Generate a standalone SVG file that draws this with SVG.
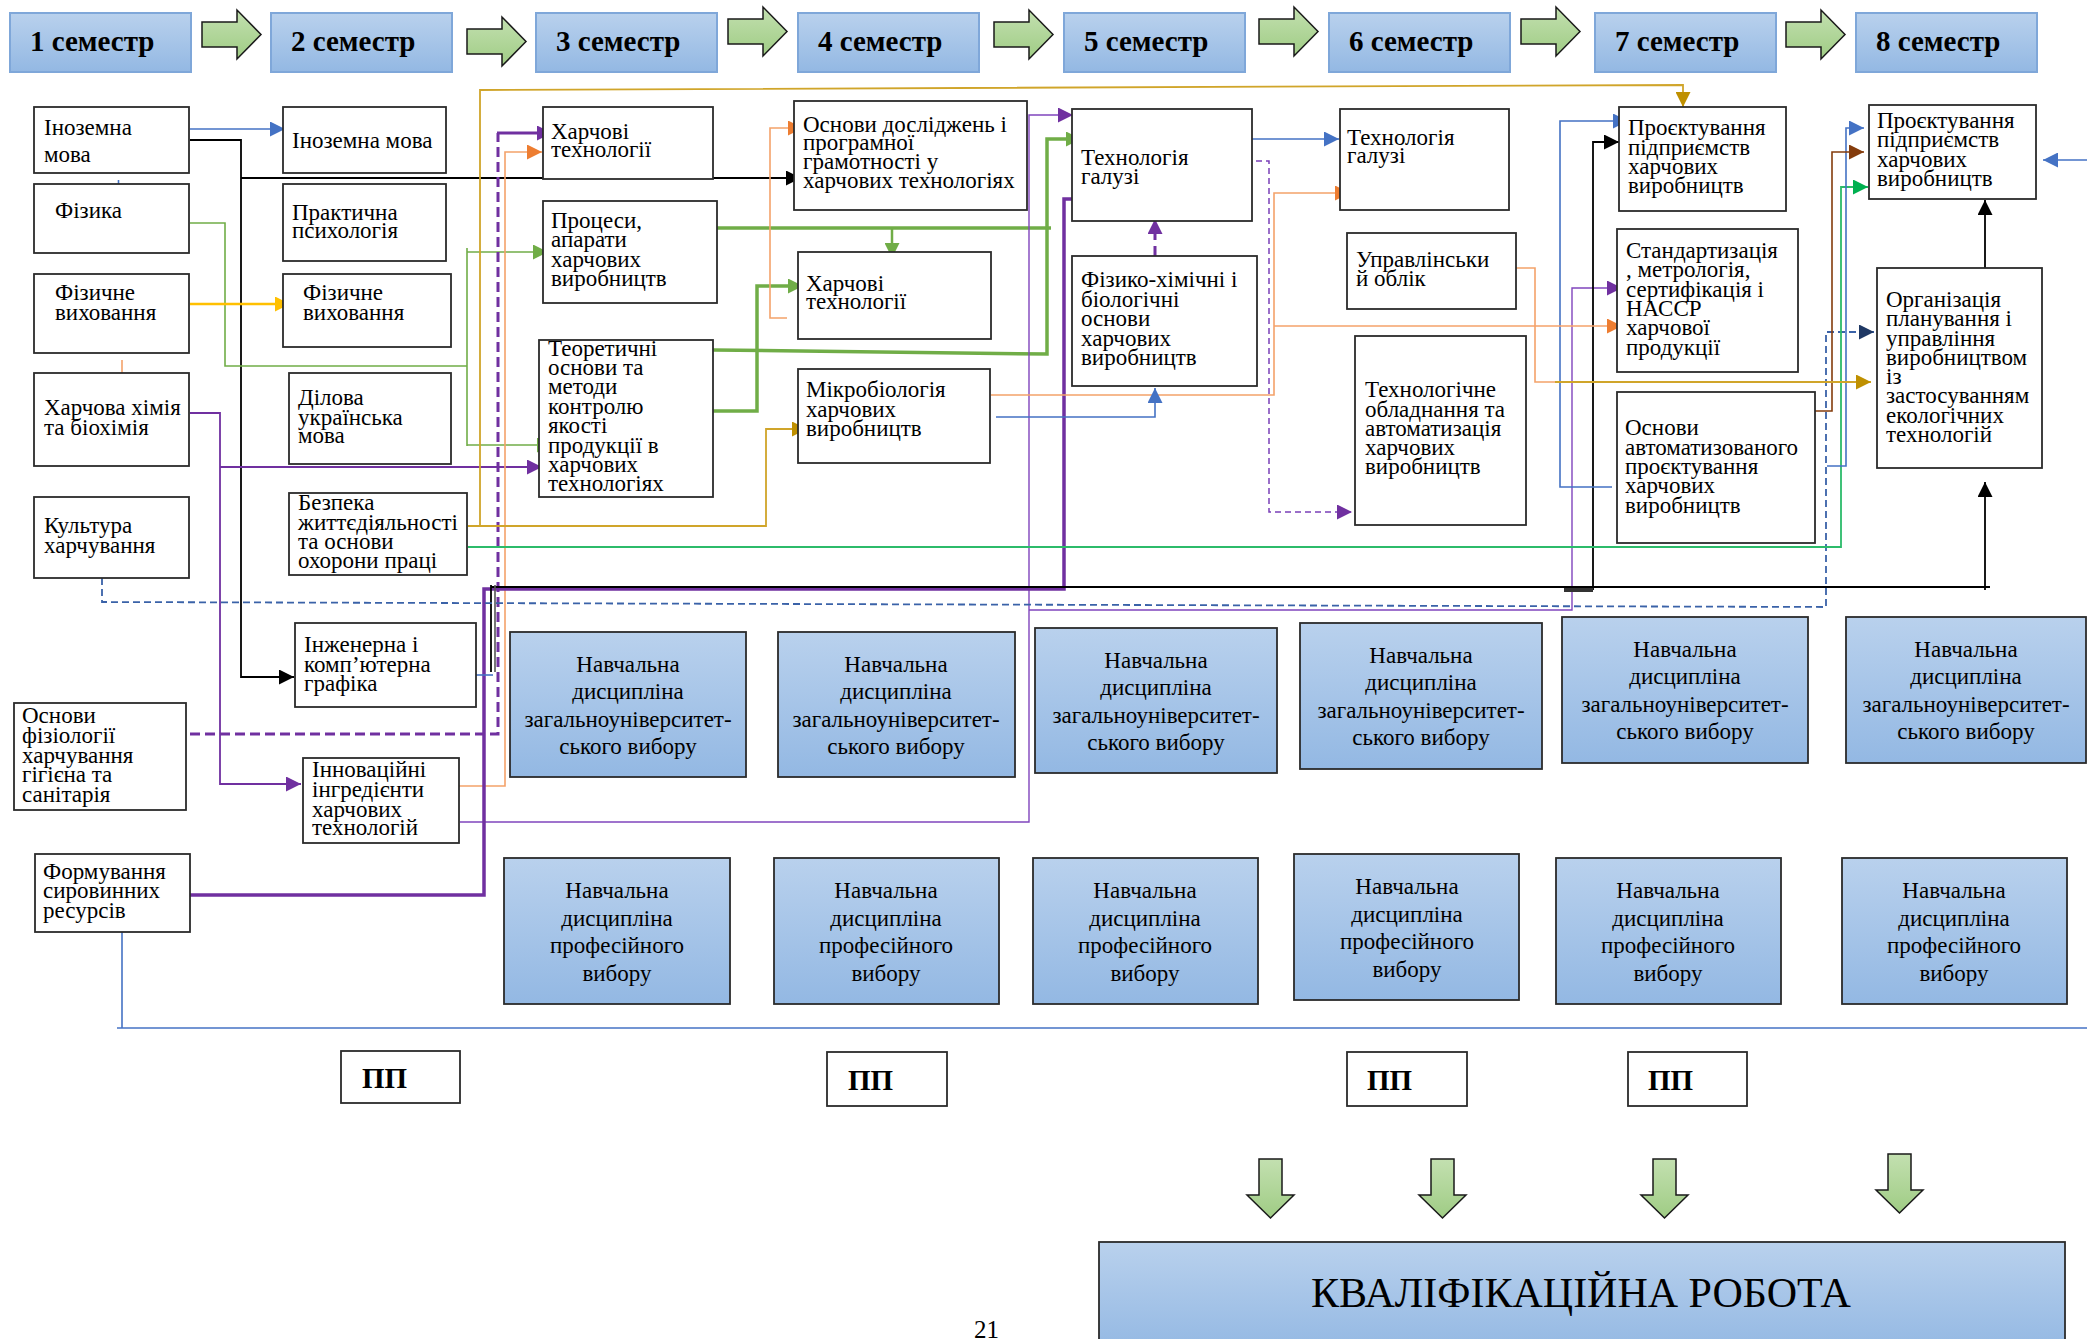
<svg xmlns="http://www.w3.org/2000/svg" xmlns:xlink="http://www.w3.org/1999/xlink" width="2087" height="1339" viewBox="0 0 2087 1339">
<defs>
<linearGradient id="gH" x1="0" y1="0" x2="0" y2="1"><stop offset="0" stop-color="#b9d1ed"/><stop offset="1" stop-color="#93b8e3"/></linearGradient>
<linearGradient id="gG" x1="0" y1="0" x2="0" y2="1"><stop offset="0" stop-color="#c3e0b0"/><stop offset="1" stop-color="#9fcc84"/></linearGradient>
<polygon id="rarr" points="0,12 35,12 35,0 59,24.5 35,49 35,37 0,37"/>
<polygon id="darr" points="12,0 35,0 35,36 47,36 23.5,59 0,36 12,36"/>
<marker id="mBl" viewBox="0 0 10 10" refX="10" refY="5" markerWidth="15" markerHeight="15" markerUnits="userSpaceOnUse" orient="auto"><path d="M0,0 L10,5 L0,10 z" fill="#4472c4"/></marker>
<marker id="mK" viewBox="0 0 10 10" refX="10" refY="5" markerWidth="15" markerHeight="15" markerUnits="userSpaceOnUse" orient="auto"><path d="M0,0 L10,5 L0,10 z" fill="#000"/></marker>
<marker id="mY" viewBox="0 0 10 10" refX="10" refY="5" markerWidth="15" markerHeight="15" markerUnits="userSpaceOnUse" orient="auto"><path d="M0,0 L10,5 L0,10 z" fill="#ffc000"/></marker>
<marker id="mP" viewBox="0 0 10 10" refX="10" refY="5" markerWidth="15" markerHeight="15" markerUnits="userSpaceOnUse" orient="auto"><path d="M0,0 L10,5 L0,10 z" fill="#7030a0"/></marker>
<marker id="mO" viewBox="0 0 10 10" refX="10" refY="5" markerWidth="15" markerHeight="15" markerUnits="userSpaceOnUse" orient="auto"><path d="M0,0 L10,5 L0,10 z" fill="#ed7d31"/></marker>
<marker id="mG" viewBox="0 0 10 10" refX="10" refY="5" markerWidth="15" markerHeight="15" markerUnits="userSpaceOnUse" orient="auto"><path d="M0,0 L10,5 L0,10 z" fill="#70ad47"/></marker>
<marker id="mGB" viewBox="0 0 10 10" refX="10" refY="5" markerWidth="15" markerHeight="15" markerUnits="userSpaceOnUse" orient="auto"><path d="M0,0 L10,5 L0,10 z" fill="#00b050"/></marker>
<marker id="mAu" viewBox="0 0 10 10" refX="10" refY="5" markerWidth="15" markerHeight="15" markerUnits="userSpaceOnUse" orient="auto"><path d="M0,0 L10,5 L0,10 z" fill="#bf9000"/></marker>
<marker id="mBr" viewBox="0 0 10 10" refX="10" refY="5" markerWidth="15" markerHeight="15" markerUnits="userSpaceOnUse" orient="auto"><path d="M0,0 L10,5 L0,10 z" fill="#843c0c"/></marker>
<marker id="mN" viewBox="0 0 10 10" refX="10" refY="5" markerWidth="15" markerHeight="15" markerUnits="userSpaceOnUse" orient="auto"><path d="M0,0 L10,5 L0,10 z" fill="#1f3864"/></marker>
<style>
text{font-family:"Liberation Serif","Times New Roman",serif;fill:#000}
.t{font-size:23px}
.ht{font-size:29px;font-weight:bold}
.bt{font-size:23px;text-anchor:middle}
.pp{font-size:29px;font-weight:bold}
.nb{fill:#fff;stroke:#2b2b2b;stroke-width:1.8}
.hdr{fill:url(#gH);stroke:#7fa7d9;stroke-width:2}
.bb{fill:url(#gH);stroke:#2b2b2b;stroke-width:1.8}
.ga{fill:url(#gG);stroke:#1a1a1a;stroke-width:1.5}
#connectors path{fill:none}
.blue{stroke:#4472c4;stroke-width:1.6}
.blk{stroke:#000;stroke-width:1.8}
.lg{stroke:#70ad47;stroke-width:1.6}
.tg{stroke:#70ad47;stroke-width:3.5}
.yel{stroke:#ffc000;stroke-width:2.5}
.pu{stroke:#7030a0;stroke-width:1.8}
.put{stroke:#8045bd;stroke-width:1.4}
.pub{stroke:#7030a0;stroke-width:3.5}
.pud{stroke:#7030a0;stroke-width:3;stroke-dasharray:10 5}
.pdt{stroke:#7a3fb8;stroke-width:1.5;stroke-dasharray:6 4}
.or{stroke:#f4a26a;stroke-width:1.6}
.au{stroke:#d0a52a;stroke-width:1.8}
.gb{stroke:#2cbb6a;stroke-width:1.8}
.br{stroke:#843c0c;stroke-width:1.6}
.bd{stroke:#3a62a8;stroke-width:1.8;stroke-dasharray:7 4}
</style>
</defs>
<rect width="2087" height="1339" fill="#fff"/>

<g id="headers">
<g id="h1"><rect class="hdr" x="10" y="13" width="181" height="59"/><text class="ht" x="30" y="51">1 семестр</text></g>
<g id="h2"><rect class="hdr" x="271" y="13" width="181" height="59"/><text class="ht" x="291" y="51">2 семестр</text></g>
<g id="h3"><rect class="hdr" x="536" y="13" width="181" height="59"/><text class="ht" x="556" y="51">3 семестр</text></g>
<g id="h4"><rect class="hdr" x="798" y="13" width="181" height="59"/><text class="ht" x="818" y="51">4 семестр</text></g>
<g id="h5"><rect class="hdr" x="1064" y="13" width="181" height="59"/><text class="ht" x="1084" y="51">5 семестр</text></g>
<g id="h6"><rect class="hdr" x="1329" y="13" width="181" height="59"/><text class="ht" x="1349" y="51">6 семестр</text></g>
<g id="h7"><rect class="hdr" x="1595" y="13" width="181" height="59"/><text class="ht" x="1615" y="51">7 семестр</text></g>
<g id="h8"><rect class="hdr" x="1856" y="13" width="181" height="59"/><text class="ht" x="1876" y="51">8 семестр</text></g>
</g>

<g id="flow-arrows">
<use href="#rarr" class="ga" x="202" y="10"/>
<use href="#rarr" class="ga" x="467" y="17"/>
<use href="#rarr" class="ga" x="728" y="7"/>
<use href="#rarr" class="ga" x="994" y="10"/>
<use href="#rarr" class="ga" x="1259" y="7"/>
<use href="#rarr" class="ga" x="1521" y="7"/>
<use href="#rarr" class="ga" x="1786" y="10"/>
<use href="#darr" class="ga" x="1247" y="1159"/>
<use href="#darr" class="ga" x="1419" y="1159"/>
<use href="#darr" class="ga" x="1641" y="1159"/>
<use href="#darr" class="ga" x="1876" y="1154"/>
</g>

<g id="connectors">
<path class="blue" d="M190,129 H285" marker-end="url(#mBl)"/>
<path class="blk" d="M190,140 H241 V677 H294" marker-end="url(#mK)"/>
<path class="blk" d="M241,178 H801" marker-end="url(#mK)"/>
<path class="lg" d="M190,223 H225 V366 H467"/>
<path class="lg" d="M467,248 V446"/>
<path class="lg" d="M467,252 H548" marker-end="url(#mG)"/>
<path class="lg" d="M467,445 H552" marker-end="url(#mG)"/>
<path class="yel" d="M190,304 H290" marker-end="url(#mY)"/>
<path class="pu" d="M190,413 H220 V784 H301" marker-end="url(#mP)"/>
<path class="pu" d="M220,467 H542" marker-end="url(#mP)"/>
<path class="pud" d="M190,734 H498 V133"/>
<path class="pub" d="M497,133 H552" style="stroke-width:3" marker-end="url(#mP)"/>
<path class="or" d="M459,786 H505 V152 H542" marker-end="url(#mO)"/>
<path class="au" d="M468,526 H766 V429 H807" marker-end="url(#mAu)"/>
<path class="au" d="M480,526 V90 L1683,85 V107" marker-end="url(#mAu)"/>
<path class="tg" d="M717,228 H1051"/>
<path class="tg" d="M892,229 V258" style="stroke-width:2.5" marker-end="url(#mG)"/>
<path class="tg" d="M713,350 L1047,354 V139 H1081" marker-end="url(#mG)"/>
<path class="tg" d="M713,411 H757 V286 H803" marker-end="url(#mG)"/>
<path class="or" d="M787,318 H770 V128 H803" marker-end="url(#mO)"/>
<path class="put" d="M460,822 H1029 V115 H1073" marker-end="url(#mP)"/>
<path class="put" d="M1029,610 H1572 V288 H1622" marker-end="url(#mP)"/>
<path class="pub" d="M190,895 H484 V589 H1064 V199 H1095" marker-end="url(#mP)"/>
<path class="blk" d="M491,587 H1990"/>
<path class="blk" d="M1985,590 V482" marker-end="url(#mK)"/>
<path class="blk" d="M491,585 V672"/>
<path stroke="#555" stroke-width="1.6" d="M495,585 V672"/>
<path class="blue" d="M476,675 H493"/>
<path class="blk" d="M1593,590 V142 H1619" marker-end="url(#mK)"/>
<path stroke="#333" stroke-width="4" d="M1564,590 H1593"/>
<path class="blk" d="M1985,268 V200" marker-end="url(#mK)"/>
<path class="bd" d="M102,578 V602 L1826,607 V332 H1874" marker-end="url(#mN)"/>
<path class="gb" d="M468,547 H1841 V187 H1868" marker-end="url(#mGB)"/>
<path class="blue" d="M1612,487 H1560 V121 H1628" marker-end="url(#mBl)"/>
<path class="blue" d="M1827,466 H1846 V128 H1864" marker-end="url(#mBl)"/>
<path class="br" d="M1815,411 H1832 V152 H1864" marker-end="url(#mBr)"/>
<path class="or" d="M991,395 H1274 V193 H1350" marker-end="url(#mO)"/>
<path class="or" d="M1274,326 H1622" marker-end="url(#mO)"/>
<path class="or" d="M1516,268 H1535 V382 H1555"/>
<path class="au" d="M1555,382 H1871" marker-end="url(#mAu)"/>
<path class="blue" d="M996,417 H1155 V388" marker-end="url(#mBl)"/>
<path class="pud" d="M1155,258 V219" style="stroke-dasharray:12 6" marker-end="url(#mP)"/>
<path class="blue" d="M1252,139 H1339" marker-end="url(#mBl)"/>
<path class="pdt" d="M1256,161 H1269 V512 H1352" marker-end="url(#mP)"/>
<path class="blue" d="M2087,160 H2043" marker-end="url(#mBl)"/>
<path class="blue" d="M122,932 V1028"/>
<path class="blue" d="M117,1028 H2087"/>
<path class="blue" d="M118.5,180 V187"/>
<path class="or" d="M122,360 V373"/>
</g>

<g id="nodes">
<g id="s1-inozemna"><rect class="nb" x="34" y="107" width="155" height="66"/><text class="t"><tspan x="44" y="135">Іноземна</tspan><tspan x="44" y="162">мова</tspan></text></g>
<g id="s1-fizyka"><rect class="nb" x="34" y="184" width="155" height="69"/><text class="t" x="55" y="218">Фізика</text></g>
<g id="s1-fizvyh"><rect class="nb" x="34" y="274" width="155" height="79"/><text class="t"><tspan x="55" y="300">Фізичне</tspan><tspan x="55" y="320">виховання</tspan></text></g>
<g id="s1-himiya"><rect class="nb" x="34" y="373" width="155" height="93"/><text class="t"><tspan x="44" y="415">Харчова хімія</tspan><tspan x="44" y="435">та біохімія</tspan></text></g>
<g id="s1-kultura"><rect class="nb" x="34" y="497" width="155" height="81"/><text class="t"><tspan x="44" y="533">Культура</tspan><tspan x="44" y="553">харчування</tspan></text></g>
<g id="s1-fiziol"><rect class="nb" x="14" y="703" width="172" height="107"/><text class="t"><tspan x="22" y="723">Основи</tspan><tspan x="22" y="743">фізіології</tspan><tspan x="22" y="763">харчування</tspan><tspan x="22" y="782">гігієна та</tspan><tspan x="22" y="802">санітарія</tspan></text></g>
<g id="s1-syrovyna"><rect class="nb" x="35" y="854" width="155" height="78"/><text class="t"><tspan x="43" y="879">Формування</tspan><tspan x="43" y="898">сировинних</tspan><tspan x="43" y="918">ресурсів</tspan></text></g>

<g id="s2-inozemna"><rect class="nb" x="283" y="107" width="163" height="66"/><text class="t" x="292" y="148">Іноземна мова</text></g>
<g id="s2-psyh"><rect class="nb" x="283" y="184" width="163" height="77"/><text class="t"><tspan x="292" y="220">Практична</tspan><tspan x="292" y="238">психологія</tspan></text></g>
<g id="s2-fizvyh"><rect class="nb" x="283" y="274" width="168" height="73"/><text class="t"><tspan x="303" y="300">Фізичне</tspan><tspan x="303" y="320">виховання</tspan></text></g>
<g id="s2-dilova"><rect class="nb" x="289" y="373" width="162" height="91"/><text class="t"><tspan x="298" y="405">Ділова</tspan><tspan x="298" y="425">українська</tspan><tspan x="298" y="443">мова</tspan></text></g>
<g id="s2-bzhd"><rect class="nb" x="289" y="493" width="178" height="82"/><text class="t"><tspan x="298" y="510">Безпека</tspan><tspan x="298" y="530">життєдіяльності</tspan><tspan x="298" y="549">та основи</tspan><tspan x="298" y="568">охорони праці</tspan></text></g>
<g id="s2-grafika"><rect class="nb" x="295" y="623" width="181" height="84"/><text class="t"><tspan x="304" y="652">Інженерна і</tspan><tspan x="304" y="672">комп’ютерна</tspan><tspan x="304" y="691">графіка</tspan></text></g>
<g id="s2-innov"><rect class="nb" x="303" y="758" width="156" height="85"/><text class="t"><tspan x="312" y="777">Інноваційні</tspan><tspan x="312" y="797">інгредієнти</tspan><tspan x="312" y="817">харчових</tspan><tspan x="312" y="835">технологій</tspan></text></g>

<g id="s3-harch"><rect class="nb" x="543" y="107" width="170" height="72"/><text class="t"><tspan x="551" y="139">Харчові</tspan><tspan x="551" y="157">технології</tspan></text></g>
<g id="s3-procesy"><rect class="nb" x="543" y="201" width="174" height="102"/><text class="t"><tspan x="551" y="228">Процеси,</tspan><tspan x="551" y="247">апарати</tspan><tspan x="551" y="267">харчових</tspan><tspan x="551" y="286">виробництв</tspan></text></g>
<g id="s3-teor"><rect class="nb" x="539" y="340" width="174" height="157"/><text class="t"><tspan x="548" y="356">Теоретичні</tspan><tspan x="548" y="375">основи та</tspan><tspan x="548" y="394">методи</tspan><tspan x="548" y="414">контролю</tspan><tspan x="548" y="433">якості</tspan><tspan x="548" y="453">продукції в</tspan><tspan x="548" y="472">харчових</tspan><tspan x="548" y="491">технологіях</tspan></text></g>

<g id="s4-doslid"><rect class="nb" x="794" y="101" width="233" height="109"/><text class="t"><tspan x="803" y="132">Основи досліджень і</tspan><tspan x="803" y="150">програмної</tspan><tspan x="803" y="169">грамотності у</tspan><tspan x="803" y="188">харчових технологіях</tspan></text></g>
<g id="s4-harch"><rect class="nb" x="798" y="252" width="193" height="87"/><text class="t"><tspan x="806" y="291">Харчові</tspan><tspan x="806" y="309">технології</tspan></text></g>
<g id="s4-mikro"><rect class="nb" x="798" y="369" width="192" height="94"/><text class="t"><tspan x="806" y="397">Мікробіологія</tspan><tspan x="806" y="417">харчових</tspan><tspan x="806" y="436">виробництв</tspan></text></g>

<g id="s5-tehn"><rect class="nb" x="1072" y="109" width="180" height="112"/><text class="t"><tspan x="1081" y="165">Технологія</tspan><tspan x="1081" y="184">галузі</tspan></text></g>
<g id="s5-fizhim"><rect class="nb" x="1072" y="256" width="185" height="130"/><text class="t"><tspan x="1081" y="287">Фізико-хімічні і</tspan><tspan x="1081" y="307">біологічні</tspan><tspan x="1081" y="326">основи</tspan><tspan x="1081" y="346">харчових</tspan><tspan x="1081" y="365">виробництв</tspan></text></g>

<g id="s6-tehn"><rect class="nb" x="1340" y="109" width="169" height="101"/><text class="t"><tspan x="1347" y="145">Технологія</tspan><tspan x="1347" y="163">галузі</tspan></text></g>
<g id="s6-oblik"><rect class="nb" x="1347" y="233" width="169" height="76"/><text class="t"><tspan x="1356" y="267">Управлінськи</tspan><tspan x="1356" y="286">й облік</tspan></text></g>
<g id="s6-obladn"><rect class="nb" x="1355" y="336" width="171" height="189"/><text class="t"><tspan x="1365" y="397">Технологічне</tspan><tspan x="1365" y="417">обладнання та</tspan><tspan x="1365" y="436">автоматизація</tspan><tspan x="1365" y="455">харчових</tspan><tspan x="1365" y="474">виробництв</tspan></text></g>

<g id="s7-proekt"><rect class="nb" x="1619" y="107" width="167" height="104"/><text class="t"><tspan x="1628" y="135">Проєктування</tspan><tspan x="1628" y="155">підприємств</tspan><tspan x="1628" y="174">харчових</tspan><tspan x="1628" y="193">виробництв</tspan></text></g>
<g id="s7-standart"><rect class="nb" x="1617" y="229" width="181" height="143"/><text class="t"><tspan x="1626" y="258">Стандартизація</tspan><tspan x="1626" y="277">, метрологія,</tspan><tspan x="1626" y="297">сертифікація і</tspan><tspan x="1626" y="316">НАССР</tspan><tspan x="1626" y="335">харчової</tspan><tspan x="1626" y="355">продукції</tspan></text></g>
<g id="s7-avtom"><rect class="nb" x="1617" y="392" width="198" height="151"/><text class="t"><tspan x="1625" y="435">Основи</tspan><tspan x="1625" y="455">автоматизованого</tspan><tspan x="1625" y="474">проєктування</tspan><tspan x="1625" y="493">харчових</tspan><tspan x="1625" y="513">виробництв</tspan></text></g>

<g id="s8-proekt"><rect class="nb" x="1869" y="105" width="167" height="94"/><text class="t"><tspan x="1877" y="128">Проєктування</tspan><tspan x="1877" y="147">підприємств</tspan><tspan x="1877" y="167">харчових</tspan><tspan x="1877" y="186">виробництв</tspan></text></g>
<g id="s8-organiz"><rect class="nb" x="1877" y="268" width="165" height="200"/><text class="t"><tspan x="1886" y="307">Організація</tspan><tspan x="1886" y="326">планування і</tspan><tspan x="1886" y="346">управління</tspan><tspan x="1886" y="365">виробництвом</tspan><tspan x="1886" y="384">із</tspan><tspan x="1886" y="403">застосуванням</tspan><tspan x="1886" y="423">екологічних</tspan><tspan x="1886" y="442">технологій</tspan></text></g>

<g id="zv1"><rect class="bb" x="510" y="632" width="236" height="145"/><text class="bt"><tspan x="628" y="672">Навчальна</tspan><tspan x="628" y="699">дисципліна</tspan><tspan x="628" y="727">загальноуніверситет-</tspan><tspan x="628" y="754">ського вибору</tspan></text></g>
<g id="zv2"><rect class="bb" x="778" y="632" width="237" height="145"/><text class="bt"><tspan x="896" y="672">Навчальна</tspan><tspan x="896" y="699">дисципліна</tspan><tspan x="896" y="727">загальноуніверситет-</tspan><tspan x="896" y="754">ського вибору</tspan></text></g>
<g id="zv3"><rect class="bb" x="1035" y="628" width="242" height="145"/><text class="bt"><tspan x="1156" y="668">Навчальна</tspan><tspan x="1156" y="695">дисципліна</tspan><tspan x="1156" y="723">загальноуніверситет-</tspan><tspan x="1156" y="750">ського вибору</tspan></text></g>
<g id="zv4"><rect class="bb" x="1300" y="623" width="242" height="146"/><text class="bt"><tspan x="1421" y="663">Навчальна</tspan><tspan x="1421" y="690">дисципліна</tspan><tspan x="1421" y="718">загальноуніверситет-</tspan><tspan x="1421" y="745">ського вибору</tspan></text></g>
<g id="zv5"><rect class="bb" x="1562" y="617" width="246" height="146"/><text class="bt"><tspan x="1685" y="657">Навчальна</tspan><tspan x="1685" y="684">дисципліна</tspan><tspan x="1685" y="712">загальноуніверситет-</tspan><tspan x="1685" y="739">ського вибору</tspan></text></g>
<g id="zv6"><rect class="bb" x="1846" y="617" width="240" height="146"/><text class="bt"><tspan x="1966" y="657">Навчальна</tspan><tspan x="1966" y="684">дисципліна</tspan><tspan x="1966" y="712">загальноуніверситет-</tspan><tspan x="1966" y="739">ського вибору</tspan></text></g>

<g id="pv1"><rect class="bb" x="504" y="858" width="226" height="146"/><text class="bt"><tspan x="617" y="898">Навчальна</tspan><tspan x="617" y="926">дисципліна</tspan><tspan x="617" y="953">професійного</tspan><tspan x="617" y="981">вибору</tspan></text></g>
<g id="pv2"><rect class="bb" x="774" y="858" width="225" height="146"/><text class="bt"><tspan x="886" y="898">Навчальна</tspan><tspan x="886" y="926">дисципліна</tspan><tspan x="886" y="953">професійного</tspan><tspan x="886" y="981">вибору</tspan></text></g>
<g id="pv3"><rect class="bb" x="1033" y="858" width="225" height="146"/><text class="bt"><tspan x="1145" y="898">Навчальна</tspan><tspan x="1145" y="926">дисципліна</tspan><tspan x="1145" y="953">професійного</tspan><tspan x="1145" y="981">вибору</tspan></text></g>
<g id="pv4"><rect class="bb" x="1294" y="854" width="225" height="146"/><text class="bt"><tspan x="1407" y="894">Навчальна</tspan><tspan x="1407" y="922">дисципліна</tspan><tspan x="1407" y="949">професійного</tspan><tspan x="1407" y="977">вибору</tspan></text></g>
<g id="pv5"><rect class="bb" x="1556" y="858" width="225" height="146"/><text class="bt"><tspan x="1668" y="898">Навчальна</tspan><tspan x="1668" y="926">дисципліна</tspan><tspan x="1668" y="953">професійного</tspan><tspan x="1668" y="981">вибору</tspan></text></g>
<g id="pv6"><rect class="bb" x="1842" y="858" width="225" height="146"/><text class="bt"><tspan x="1954" y="898">Навчальна</tspan><tspan x="1954" y="926">дисципліна</tspan><tspan x="1954" y="953">професійного</tspan><tspan x="1954" y="981">вибору</tspan></text></g>

<g id="pp1"><rect class="nb" x="341" y="1051" width="119" height="52"/><text class="pp" x="362" y="1088">ПП</text></g>
<g id="pp2"><rect class="nb" x="827" y="1052" width="120" height="54"/><text class="pp" x="848" y="1090">ПП</text></g>
<g id="pp3"><rect class="nb" x="1347" y="1052" width="120" height="54"/><text class="pp" x="1367" y="1090">ПП</text></g>
<g id="pp4"><rect class="nb" x="1628" y="1052" width="119" height="54"/><text class="pp" x="1648" y="1090">ПП</text></g>

<g id="kvalif"><rect class="bb" x="1099" y="1242" width="966" height="110"/><text x="1581" y="1307" style="font-size:42px;text-anchor:middle">КВАЛІФІКАЦІЙНА РОБОТА</text></g>
</g>
<text x="974" y="1338" style="font-size:25px">21</text>
</svg>
